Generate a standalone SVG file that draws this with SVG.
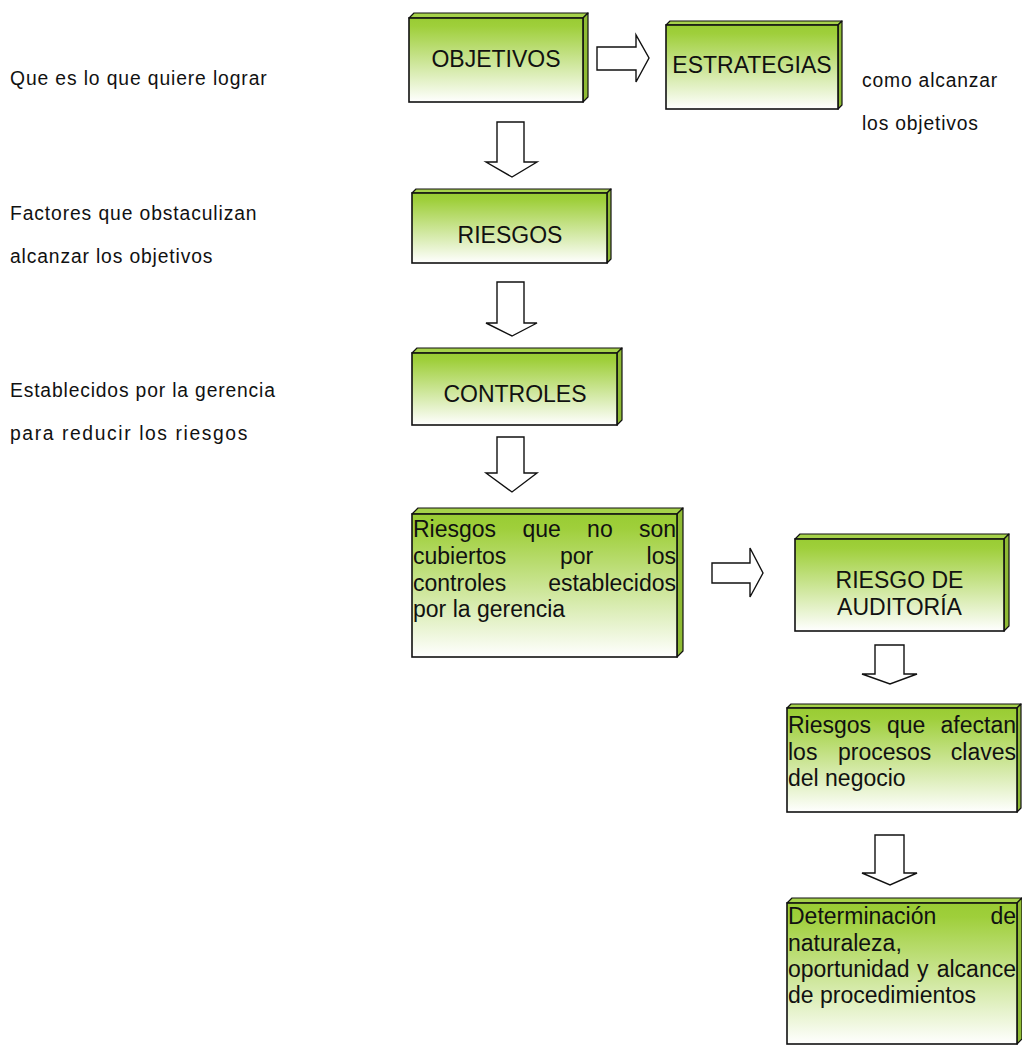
<svg xmlns="http://www.w3.org/2000/svg" width="1022" height="1047" viewBox="0 0 1022 1047">
  <defs>
    <linearGradient id="boxFill" x1="0" y1="0" x2="0" y2="1">
      <stop offset="0" stop-color="#99cc33"/>
      <stop offset="0.1" stop-color="#9fcf3b"/>
      <stop offset="1" stop-color="#ffffff"/>
    </linearGradient>
  </defs>
  <style>
    .front { fill: url(#boxFill); stroke: #111; stroke-width: 1.6; }
    .top { fill: #a6d24a; stroke: #111; stroke-width: 1.2; stroke-linejoin: round; }
    .side { fill: #8fbb34; stroke: #111; stroke-width: 1.2; stroke-linejoin: round; }
    .lbl { font-family: "Liberation Sans", Arial, sans-serif; font-size: 23px; fill: #111; }
    .mid { text-anchor: middle; }
    .end { text-anchor: end; }
    /* narrow annotation lettering: regular sans squeezed horizontally */
    .note { font-family: "Liberation Sans", Arial, sans-serif; font-size: 21px; fill: #111; }
    .arrow { fill: #ffffff; stroke: #111; stroke-width: 1.4; stroke-linejoin: miter; }
  </style>
  <rect width="1022" height="1047" fill="#ffffff"/>

  <!-- side annotations -->
  <g id="notes">
    <text class="note" transform="translate(10,85) scale(0.92,1)" textLength="279" lengthAdjust="spacing">Que es lo que quiere lograr</text>
    <text class="note" transform="translate(10,220) scale(0.92,1)" textLength="268" lengthAdjust="spacing">Factores que obstaculizan</text>
    <text class="note" transform="translate(10,263) scale(0.92,1)" textLength="220" lengthAdjust="spacing">alcanzar los objetivos</text>
    <text class="note" transform="translate(10,397) scale(0.92,1)" textLength="288" lengthAdjust="spacing">Establecidos por la gerencia</text>
    <text class="note" transform="translate(10,440) scale(0.92,1)" textLength="258" lengthAdjust="spacing">para reducir los riesgos</text>
    <text class="note" transform="translate(862,87) scale(0.92,1)" textLength="147" lengthAdjust="spacing">como alcanzar</text>
    <text class="note" transform="translate(862,130) scale(0.92,1)" textLength="126" lengthAdjust="spacing">los objetivos</text>
  </g>

  <!-- block arrows -->
  <g id="connectors">
    <path class="arrow" d="M597,47 H636 V35 L649,58 L636,82 V70 H597 Z"/>
    <path class="arrow" d="M497,122 H524 V162 H537 L512,177 L486,162 H497 Z"/>
    <path class="arrow" d="M497,282 H524 V323 H537 L512,336 L486,323 H497 Z"/>
    <path class="arrow" d="M497,437 H524 V473 H537 L512,492 L486,473 H497 Z"/>
    <path class="arrow" d="M712,563 H750 V548 L763,573 L750,597 V583 H712 Z"/>
    <path class="arrow" d="M875,645 H904 V674 H917 L890,684 L862,674 H875 Z"/>
    <path class="arrow" d="M875,835 H904 V873 H917 L890,885 L862,873 H875 Z"/>
  </g>

  <g id="objetivos">
    <polygon class="top" points="409,18 414,13 588,13 583,18"/>
    <polygon class="side" points="583,18 588,13 588,97 583,102"/>
    <rect class="front" x="409" y="18" width="174" height="84"/>
    <text class="lbl mid" x="496" y="67">OBJETIVOS</text>
  </g>

  <g id="estrategias">
    <polygon class="top" points="666,25 670,21 842,21 838,25"/>
    <polygon class="side" points="838,25 842,21 842,105 838,109"/>
    <rect class="front" x="666" y="25" width="172" height="84"/>
    <text class="lbl mid" x="752" y="73">ESTRATEGIAS</text>
  </g>

  <g id="riesgos">
    <polygon class="top" points="412,193 416,189 611,189 607,193"/>
    <polygon class="side" points="607,193 611,189 611,259 607,263"/>
    <rect class="front" x="412" y="193" width="195" height="70"/>
    <text class="lbl mid" x="510" y="243">RIESGOS</text>
  </g>

  <g id="controles">
    <polygon class="top" points="412,353 417,348 622,348 617,353"/>
    <polygon class="side" points="617,353 622,348 622,420 617,425"/>
    <rect class="front" x="412" y="353" width="205" height="72"/>
    <text class="lbl mid" x="515" y="402">CONTROLES</text>
  </g>

  <g id="riesgos-no-cubiertos">
    <polygon class="top" points="412,514 418,508 683,508 677,514"/>
    <polygon class="side" points="677,514 683,508 683,651 677,657"/>
    <rect class="front" x="412" y="514" width="265" height="143"/>
    <text class="lbl" y="537"><tspan x="413">Riesgos</tspan><tspan x="522.4">que</tspan><tspan x="587.1">no</tspan></text>
    <text class="lbl end" x="676" y="537">son</text>
    <text class="lbl" x="413" y="564">cubiertos</text>
    <text class="lbl" x="560" y="564">por</text>
    <text class="lbl end" x="676" y="564">los</text>
    <text class="lbl" x="413" y="590.5">controles</text>
    <text class="lbl end" x="676" y="590.5">establecidos</text>
    <text class="lbl" x="413" y="617">por la gerencia</text>
  </g>

  <g id="riesgo-auditoria">
    <polygon class="top" points="795,539 800,534 1009,534 1004,539"/>
    <polygon class="side" points="1004,539 1009,534 1009,626 1004,631"/>
    <rect class="front" x="795" y="539" width="209" height="92"/>
    <text class="lbl mid" x="899.5" y="588">RIESGO DE</text>
    <text class="lbl mid" x="899.5" y="615">AUDITORÍA</text>
  </g>

  <g id="procesos-clave">
    <polygon class="top" points="787,708 791,704 1021,704 1017,708"/>
    <polygon class="side" points="1017,708 1021,704 1021,808 1017,812"/>
    <rect class="front" x="787" y="708" width="230" height="104"/>
    <text class="lbl" x="788" y="733">Riesgos</text>
    <text class="lbl" x="887" y="733">que</text>
    <text class="lbl end" x="1016" y="733">afectan</text>
    <text class="lbl" x="788" y="759.5">los</text>
    <text class="lbl" x="838" y="759.5">procesos</text>
    <text class="lbl end" x="1016" y="759.5">claves</text>
    <text class="lbl" x="788" y="786">del negocio</text>
  </g>

  <g id="determinacion">
    <polygon class="top" points="787,903 792,898 1022,898 1017,903"/>
    <polygon class="side" points="1017,903 1022,898 1022,1039 1017,1044"/>
    <rect class="front" x="787" y="903" width="230" height="141"/>
    <text class="lbl" x="788" y="924">Determinación</text>
    <text class="lbl end" x="1016" y="924">de</text>
    <text class="lbl" x="788" y="950.5">naturaleza,</text>
    <text class="lbl" x="788" y="977">oportunidad</text>
    <text class="lbl" x="917" y="977">y</text>
    <text class="lbl end" x="1016" y="977">alcance</text>
    <text class="lbl" x="788" y="1003">de procedimientos</text>
  </g>
</svg>
